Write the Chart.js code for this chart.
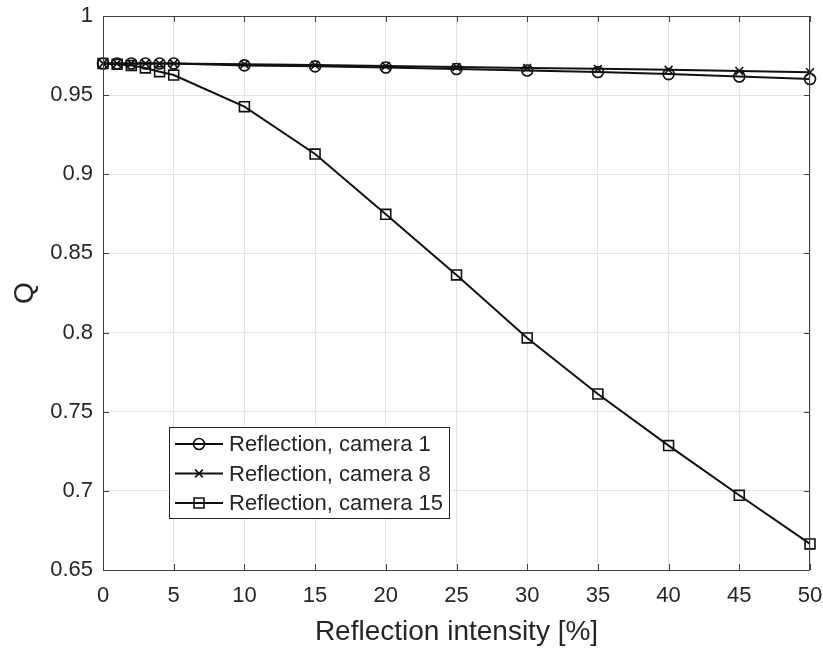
<!DOCTYPE html>
<html>
<head>
<meta charset="utf-8">
<script src="https://cdn.jsdelivr.net/npm/chart.js@4.4.1/dist/chart.umd.min.js"></script>
<style>
  body { margin: 0; background: #fff; }
  #wrap { width: 823px; height: 649px; }
</style>
</head>
<body>
<div id="wrap"><canvas id="chart"></canvas></div>
<script>
// Datos
const intensity = [0, 1, 2, 3, 4, 5, 10, 15, 20, 25, 30, 35, 40, 45, 50];
const camera1 = [0.970, 0.970, 0.970, 0.970, 0.970, 0.970, 0.9688, 0.9682, 0.9675, 0.9665, 0.9656, 0.9646, 0.9633, 0.9618, 0.9602];
const camera8 = [0.970, 0.970, 0.970, 0.970, 0.970, 0.970, 0.9695, 0.9690, 0.9684, 0.9678, 0.9672, 0.9666, 0.9660, 0.9653, 0.9645];
const camera15 = [0.970, 0.9695, 0.9688, 0.9672, 0.9648, 0.9627, 0.9427, 0.9128, 0.8747, 0.8364, 0.7966, 0.7612, 0.7286, 0.6972, 0.6665];
const seriesLabels = ["Reflection, camera 1", "Reflection, camera 8", "Reflection, camera 15"];
const xTickLabels = ["0", "5", "10", "15", "20", "25", "30", "35", "40", "45", "50"];
const yTickLabels = ["0.65", "0.7", "0.75", "0.8", "0.85", "0.9", "0.95", "1"];

const FONT = "'Liberation Sans', Arial, sans-serif";
const TEXT = "#262626";

function toPoints(ys) {
    return intensity.map((x, i) => ({ x: x, y: ys[i] }));
}

function makeSeries(label, ys, style, radius) {
    return {
        label: label,
        data: toPoints(ys),
        showLine: true,
        borderColor: "#111",
        backgroundColor: "rgba(0,0,0,0)",
        borderWidth: 2,
        pointStyle: style,
        pointRadius: radius,
        pointBorderWidth: 1.6,
        pointBorderColor: "#111",
        pointBackgroundColor: "rgba(0,0,0,0)",
        clip: false
    };
}

// Marco y marcas hacia dentro, estilo Matlab
const framePlugin = {
    id: "frame",
    afterDatasetsDraw(chart) {
        const { ctx, chartArea: a, scales } = chart;
        ctx.save();
        ctx.strokeStyle = "#404040";
        ctx.lineWidth = 1;
        ctx.strokeRect(a.left + 0.5, a.top + 0.5, a.right - a.left - 1, a.bottom - a.top);
        const len = 6;
        ctx.beginPath();
        scales.x.ticks.forEach(t => {
            const px = Math.round(scales.x.getPixelForValue(t.value)) + 0.5;
            ctx.moveTo(px, a.bottom); ctx.lineTo(px, a.bottom - len);
            ctx.moveTo(px, a.top); ctx.lineTo(px, a.top + len);
        });
        scales.y.ticks.forEach(t => {
            const py = Math.round(scales.y.getPixelForValue(t.value)) + 0.5;
            ctx.moveTo(a.left, py); ctx.lineTo(a.left + len, py);
            ctx.moveTo(a.right, py); ctx.lineTo(a.right - len, py);
        });
        ctx.stroke();
        ctx.restore();
    }
};

// Leyenda dentro del area del grafico
const legendPlugin = {
    id: "insideLegend",
    afterDraw(chart) {
        const { ctx } = chart;
        const box = { x: 169, y: 427, w: 280, h: 91 };
        ctx.save();
        ctx.fillStyle = "#fff";
        ctx.fillRect(box.x, box.y, box.w, box.h);
        ctx.strokeStyle = "#262626";
        ctx.lineWidth = 1;
        ctx.strokeRect(box.x + 0.5, box.y + 0.5, box.w, box.h);
        ctx.font = "22px " + FONT;
        ctx.textBaseline = "middle";
        chart.data.datasets.forEach((ds, i) => {
            const y = box.y + 17 + i * 29.5;
            ctx.strokeStyle = "#111";
            ctx.lineWidth = 2;
            ctx.beginPath();
            ctx.moveTo(box.x + 6, y);
            ctx.lineTo(box.x + 54, y);
            ctx.stroke();
            ctx.lineWidth = 1.6;
            ctx.fillStyle = "rgba(0,0,0,0)";
            Chart.helpers.drawPoint(ctx, {
                pointStyle: ds.pointStyle,
                radius: ds.pointRadius,
                borderWidth: 1.6,
                rotation: 0
            }, box.x + 30, y);
            ctx.fillStyle = TEXT;
            ctx.fillText(ds.label, box.x + 60, y + 1);
        });
        ctx.restore();
    }
};

new Chart(document.getElementById("chart"), {
    type: "scatter",
    data: {
        datasets: [
            makeSeries(seriesLabels[0], camera1, "circle", 5.5),
            makeSeries(seriesLabels[1], camera8, "crossRot", 5.5),
            makeSeries(seriesLabels[2], camera15, "rect", 7)
        ]
    },
    options: {
        responsive: true,
        maintainAspectRatio: false,
        animation: false,
        layout: { padding: { left: 0, top: 16, right: 13, bottom: 0 } },
        plugins: {
            legend: { display: false },
            tooltip: { enabled: false }
        },
        scales: {
            x: {
                type: "linear",
                min: 0,
                max: 50,
                afterFit: s => {
                    s.height = 79;
                    s.paddingLeft = 0;
                    s.paddingRight = 0;
                },
                ticks: {
                    stepSize: 5,
                    padding: 13,
                    color: TEXT,
                    font: { family: FONT, size: 22 },
                    callback: (v, i) => xTickLabels[i]
                },
                grid: { color: "#e3e3e3", drawTicks: false },
                border: { display: false },
                title: {
                    display: true,
                    text: "Reflection intensity [%]",
                    color: TEXT,
                    font: { family: FONT, size: 28 },
                    padding: { top: 0, bottom: 0 }
                }
            },
            y: {
                min: 0.65,
                max: 1,
                afterFit: s => {
                    s.width = 103;
                    s.paddingTop = 0;
                    s.paddingBottom = 0;
                },
                ticks: {
                    stepSize: 0.05,
                    padding: 10,
                    color: TEXT,
                    font: { family: FONT, size: 22 },
                    callback: (v, i) => yTickLabels[i]
                },
                grid: { color: "#e3e3e3", drawTicks: false },
                border: { display: false },
                title: {
                    display: true,
                    text: "Q",
                    color: TEXT,
                    font: { family: FONT, size: 28 },
                    padding: { top: 8, bottom: 0 }
                }
            }
        }
    },
    plugins: [framePlugin, legendPlugin]
});
</script>
</body>
</html>
